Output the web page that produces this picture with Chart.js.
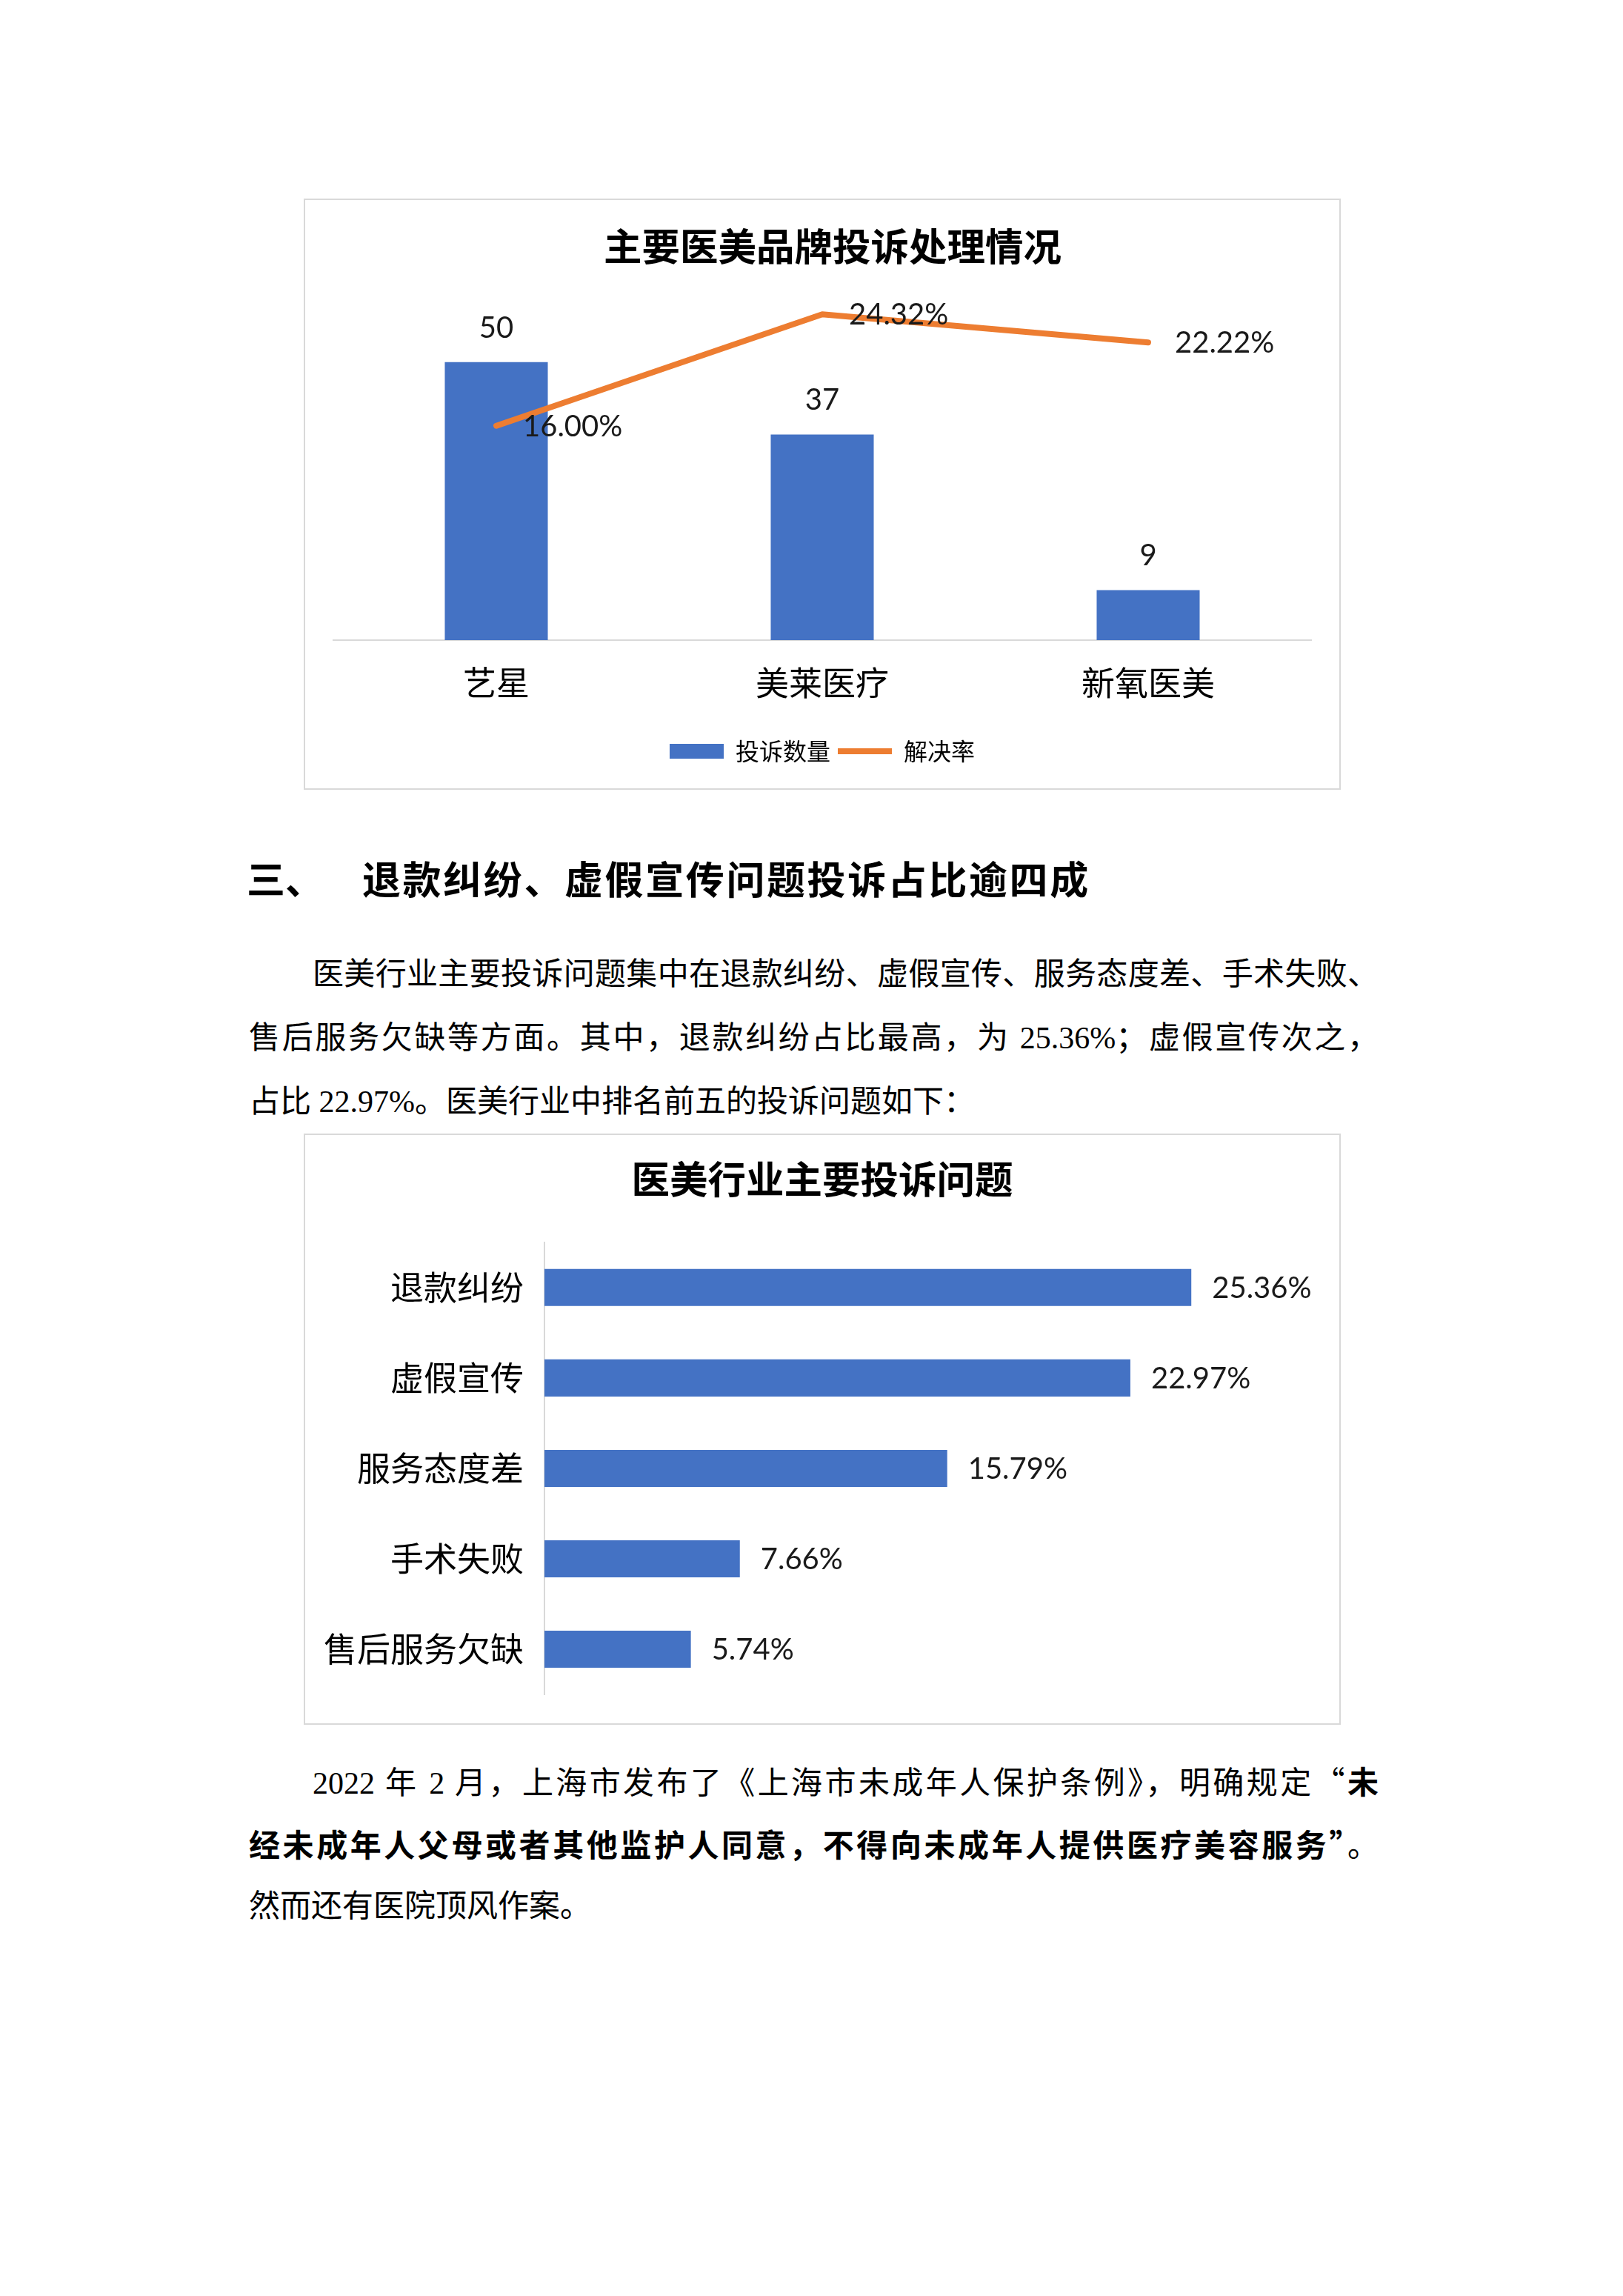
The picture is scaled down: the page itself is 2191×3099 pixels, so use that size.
<!DOCTYPE html>
<html lang="zh-CN">
<head>
<meta charset="utf-8">
<title>医美投诉</title>
<script src="https://cdn.jsdelivr.net/npm/chart.js@4.4.0/dist/chart.umd.min.js"></script>
<style>
  body { margin: 0; background: #fff; }
  .page { position: relative; width: 2191px; height: 3099px; background: #fff; overflow: hidden; }
  .frame { position: absolute; left: 410px; width: 1400px; height: 798px; border: 2px solid #d9d9d9; box-sizing: border-box; }
  .frame canvas { display: block; }
  .txt { position: absolute; font-family: "Liberation Serif", "Noto Sans CJK SC", serif; font-size: 42px; line-height: 60px; color: #000; white-space: nowrap; }
  .just { text-align: justify; text-align-last: justify; white-space: normal; }
  .q { font-family: "Noto Sans CJK SC", sans-serif; }
  .head { position: absolute; font-family: "Noto Sans CJK SC", sans-serif; font-weight: bold; font-size: 52px; line-height: 70px; color: #000; white-space: nowrap; }
</style>
</head>
<body>
<div class="page">

  <div class="frame" style="top:268px"><canvas id="brandChart" width="1396" height="794"></canvas></div>

  <div class="head" style="left:333px; top:1150px;">三、</div>
  <div class="head" style="left:489px; top:1150px; letter-spacing:2.6px;">退款纠纷、虚假宣传问题投诉占比逾四成</div>

  <div class="txt just" style="left:422px; width:1439px; top:1285px;">医美行业主要投诉问题集中在退款纠纷、虚假宣传、服务态度差、手术失败、</div>
  <div class="txt just" style="left:336px; width:1525px; top:1371px;">售后服务欠缺等方面。其中，退款纠纷占比最高，为 25.36%；虚假宣传次之，</div>
  <div class="txt" style="left:336px; top:1457px;">占比 22.97%。医美行业中排名前五的投诉问题如下：</div>

  <div class="frame" style="top:1530px"><canvas id="issueChart" width="1396" height="794"></canvas></div>

  <div class="txt just" style="left:422px; width:1439px; top:2373px;">2022 年 2 月，上海市发布了《上海市未成年人保护条例》，明确规定<span class="q">“</span><b>未</b></div>
  <div class="txt just" style="left:336px; width:1525px; top:2458px;"><b>经未成年人父母或者其他监护人同意，不得向未成年人提供医疗美容服务<span class="q">”</span></b>。</div>
  <div class="txt" style="left:336px; top:2543px;">然而还有医院顶风作案。</div>

</div>
<script>
// ===== DATA =====
const brandNames = ["艺星", "美莱医疗", "新氧医美"];
const complaintCounts = [50, 37, 9];
const resolveRates = [16.00, 24.32, 22.22];

const issueNames = ["退款纠纷", "虚假宣传", "服务态度差", "手术失败", "售后服务欠缺"];
const issueShares = [25.36, 22.97, 15.79, 7.66, 5.74];

const cjk = "'Noto Sans CJK SC'";
const blue = "#4472C4";
const orange = "#ED7D31";

// ===== BRAND COMPLAINTS: BAR + LINE =====
const brandLabels = {
  id: "brandLabels",
  afterDatasetsDraw(chart) {
    const ctx = chart.ctx;
    ctx.save();
    ctx.font = "40px Lato";
    ctx.fillStyle = "#1a1a1a";
    ctx.textBaseline = "middle";

    ctx.textAlign = "center";
    chart.getDatasetMeta(0).data.forEach((bar, i) => {
      ctx.fillText(String(complaintCounts[i]), bar.x, bar.y - 46);
    });

    ctx.textAlign = "left";
    chart.getDatasetMeta(1).data.forEach((pt, i) => {
      ctx.fillText(resolveRates[i].toFixed(2) + "%", pt.x + 36, pt.y + 1);
    });
    ctx.restore();
  }
};

new Chart(document.getElementById("brandChart"), {
  type: "bar",
  data: {
    labels: brandNames,
    datasets: [
      {
        type: "bar",
        label: "投诉数量",
        data: complaintCounts,
        backgroundColor: blue,
        pointStyle: "rect",
        barPercentage: 0.316,
        categoryPercentage: 1,
        yAxisID: "y",
        order: 1
      },
      {
        type: "line",
        label: "解决率",
        data: resolveRates,
        borderColor: orange,
        backgroundColor: orange,
        borderWidth: 8,
        borderCapStyle: "round",
        borderJoinStyle: "round",
        pointRadius: 0,
        pointHoverRadius: 0,
        pointStyle: "line",
        tension: 0,
        yAxisID: "y2",
        order: 0
      }
    ]
  },
  options: {
    responsive: false,
    animation: false,
    devicePixelRatio: 1,
    layout: { padding: { left: 38, right: 10, top: 0, bottom: 24 } },
    plugins: {
      title: {
        display: true,
        text: "主要医美品牌投诉处理情况",
        color: "#000",
        font: { family: cjk, size: 51.5, weight: "bold", lineHeight: 1.2 },
        padding: { top: 32, bottom: 50 }
      },
      legend: {
        position: "bottom",
        fullSize: false,
        labels: {
          usePointStyle: true,
          pointStyleWidth: 73,
          boxHeight: 20,
          padding: 10,
          color: "#000",
          font: { family: cjk, size: 32 },
          sort: (a, b) => a.datasetIndex - b.datasetIndex
        }
      },
      tooltip: { enabled: false }
    },
    scales: {
      x: {
        grid: { display: false, drawTicks: false },
        border: { display: true, color: "#d9d9d9", width: 2 },
        ticks: { padding: 31, color: "#000", font: { family: cjk, size: 45 } },
        afterFit(s) { s.height = 124; }
      },
      y: { display: false, min: 0, max: 60 },
      y2: {
        display: true,
        position: "right",
        min: 0,
        max: 24.9,
        grid: { display: false, drawTicks: false },
        border: { display: false },
        ticks: { display: false },
        afterFit(s) { s.width = 28; }
      }
    }
  },
  plugins: [brandLabels]
});

// ===== MAIN COMPLAINT ISSUES: HORIZONTAL BAR =====
const issueLabels = {
  id: "issueLabels",
  afterDatasetsDraw(chart) {
    const ctx = chart.ctx;
    ctx.save();
    ctx.font = "40px Lato";
    ctx.fillStyle = "#1a1a1a";
    ctx.textBaseline = "middle";
    ctx.textAlign = "left";
    chart.getDatasetMeta(0).data.forEach((bar, i) => {
      ctx.fillText(issueShares[i].toFixed(2) + "%", bar.x + 28, bar.y + 1);
    });
    ctx.restore();
  }
};

new Chart(document.getElementById("issueChart"), {
  type: "bar",
  data: {
    labels: issueNames,
    datasets: [{
      label: "占比",
      data: issueShares,
      backgroundColor: blue,
      barPercentage: 0.41,
      categoryPercentage: 1
    }]
  },
  options: {
    indexAxis: "y",
    responsive: false,
    animation: false,
    devicePixelRatio: 1,
    layout: { autoPadding: false, padding: { left: 20, right: 20, top: 0, bottom: 39 } },
    plugins: {
      title: {
        display: true,
        text: "医美行业主要投诉问题",
        color: "#000",
        font: { family: cjk, size: 51.5, weight: "bold", lineHeight: 1.2 },
        padding: { top: 29, bottom: 54 }
      },
      legend: { display: false },
      tooltip: { enabled: false }
    },
    scales: {
      x: { display: false, min: 0, max: 30 },
      y: {
        grid: { display: false, drawTicks: false },
        border: { display: true, color: "#d9d9d9", width: 2 },
        // small lineHeight keeps the scale from reserving extra space below the last label
        ticks: { padding: 28, color: "#000", font: { family: cjk, size: 45, lineHeight: 0.4 } },
        afterFit(s) { s.width = 303; }
      },
      // empty right-hand gutter so the title stays centred on the frame
      yRight: {
        type: "linear",
        position: "right",
        display: true,
        grid: { display: false, drawTicks: false },
        border: { display: false },
        ticks: { display: false },
        afterFit(s) { s.width = 20; }
      }
    }
  },
  plugins: [issueLabels]
});
</script>
</body>
</html>
